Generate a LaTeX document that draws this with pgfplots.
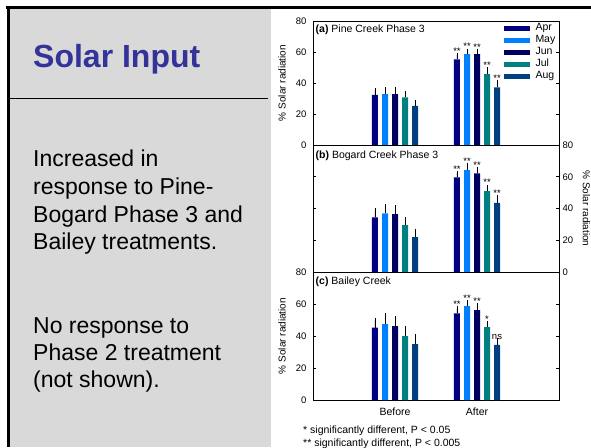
\documentclass[border=0pt]{standalone}
\usepackage{pgfplots}
\pgfplotsset{compat=1.18}
\usepackage{pgfplotstable}
\usepackage{fontspec}
\setmainfont{Liberation Sans}

\definecolor{cApr}{RGB}{0,0,128}
\definecolor{cMay}{RGB}{0,128,255}
\definecolor{cJun}{RGB}{0,0,96}
\definecolor{cJul}{RGB}{0,128,128}
\definecolor{cAug}{RGB}{0,64,128}
\definecolor{panelgrey}{RGB}{217,217,217}
\definecolor{titleblue}{RGB}{51,51,153}

% g: 0 = Before, 1 = After ; E = error (+), L = significance label
\pgfplotstableread{
g apr aprE aprL may mayE mayL jun junE junL jul julE julL aug augE augL
0 32.3 3.0 - 32.8 3.2 - 32.8 3.2 - 30.8 2.5 - 25.2 2.7 -
1 55.3 2.7 ** 58.7 2.1 ** 58.7 2.0 ** 45.8 3.0 ** 37.2 3.4 **
}\tabA
\pgfplotstableread{
g apr aprE aprL may mayE mayL jun junE junL jul julE julL aug augE augL
0 34.4 4.6 - 36.9 4.6 - 36.5 4.2 - 29.6 3.5 - 22.0 4.0 -
1 59.6 2.5 ** 64.2 2.9 ** 62.1 2.9 ** 50.9 2.8 ** 43.6 3.4 **
}\tabB
\pgfplotstableread{
g apr aprE aprL may mayE mayL jun junE junL jul julE julL aug augE augL
0 45.2 4.6 - 47.5 5.2 - 46.2 4.8 - 40.0 4.8 - 35.0 5.0 -
1 54.2 3.1 ** 58.7 2.5 ** 56.2 3.0 ** 45.6 2.5 * 34.4 2.9 ns
}\tabC

\pgfplotsset{
  barsty/.style={ybar, bar width=6pt, bar shift=0pt, draw=none,
    error bars/y dir=plus, error bars/y explicit,
    error bars/error bar style={black, line width=0.7pt},
    error bars/error mark options={black, mark size=2.2pt, line width=0.7pt}},
  labsty/.style={only marks, mark=none,
    skip coords between index={0}{1},
    nodes near coords, point meta=explicit symbolic,
    every node near coord/.append style={font=\fontsize{9.5}{10}\selectfont, inner sep=0.6pt, anchor=south, black}},
  panel/.style={scale only axis, width=246pt, anchor=south west,
    xmin=-1, xmax=2, ymin=0, ymax=80, ytick={0,20,40,60,80},
    tick align=inside, major tick length=3pt, xtick=\empty, clip=false,
    axis line style={line width=0.7pt}, tick style={line width=0.6pt, black},
    tick label style={font=\fontsize{9.5}{11}\selectfont},
    /pgf/number format/assume math mode=true,
    ylabel={\% Solar radiation},
    label style={font=\fontsize{9.5}{11}\selectfont}},
  leftlab/.style={yticklabel pos=left, yticklabel style={xshift=-3pt},
    every axis y label/.style={at={(rel axis cs:-0.126,0.5)}, rotate=90, anchor=center}},
  rightlab/.style={yticklabel pos=right,
    every axis y label/.style={at={(rel axis cs:1.112,0.5)}, rotate=-90, anchor=center}},
}

% bars of one month sit 10 px (0.122 x units) apart within a group
\newcommand{\monthbars}[1]{%
  \addplot[barsty, fill=cApr] table[x expr=\thisrow{g}-0.244,y=apr,y error=aprE]{#1};
  \addplot[barsty, fill=cMay] table[x expr=\thisrow{g}-0.122,y=may,y error=mayE]{#1};
  \addplot[barsty, fill=cJun] table[x expr=\thisrow{g},y=jun,y error=junE]{#1};
  \addplot[barsty, fill=cJul] table[x expr=\thisrow{g}+0.122,y=jul,y error=julE]{#1};
  \addplot[barsty, fill=cAug] table[x expr=\thisrow{g}+0.244,y=aug,y error=augE]{#1};
  \addplot[labsty] table[x expr=\thisrow{g}-0.244,y expr=\thisrow{apr}+\thisrow{aprE},meta=aprL]{#1};
  \addplot[labsty] table[x expr=\thisrow{g}-0.122,y expr=\thisrow{may}+\thisrow{mayE},meta=mayL]{#1};
  \addplot[labsty] table[x expr=\thisrow{g},y expr=\thisrow{jun}+\thisrow{junE},meta=junL]{#1};
  \addplot[labsty] table[x expr=\thisrow{g}+0.122,y expr=\thisrow{jul}+\thisrow{julE},meta=julL]{#1};
  \addplot[labsty] table[x expr=\thisrow{g}+0.244,y expr=\thisrow{aug}+\thisrow{augE},meta=augL]{#1};
}

\begin{document}
\begin{tikzpicture}[x=1pt,y=1pt]
\useasboundingbox (0,0) rectangle (591,447);
\clip (0,0) rectangle (591,447);
\fill[white] (0,0) rectangle (591,447);
\fill[panelgrey] (8,0) rectangle (271,439);
\draw[line width=3pt] (6,439.5) -- (591,439.5);
\draw[line width=3pt] (8.3,441) -- (8.3,0);
\draw[line width=0.9pt] (7,348.7) -- (268,348.7);

\node[anchor=base west, inner sep=0, font=\fontsize{32}{38}\selectfont\bfseries, text=titleblue] at (33,379) {Solar Input};

\begin{scope}[every node/.style={anchor=base west, inner sep=0, font=\fontsize{23}{27.5}\selectfont}]
\node at (33,280.3) {Increased in};
\node at (33,252.5) {response to Pine-};
\node at (33,224.7) {Bogard Phase 3 and};
\node at (33,197) {Bailey treatments.};
\node at (33,113.7) {No response to};
\node at (33,86.5) {Phase 2 treatment};
\node at (33,59.5) {(not shown).};
\end{scope}

% (a)
\begin{axis}[panel, leftlab, at={(313pt,302pt)}, height=124pt,
  legend style={at={(rel axis cs:0.776,0.995)}, anchor=north west, draw=none, fill=none,
    inner sep=0pt, font=\fontsize{10.5}{12}\selectfont, row sep=0pt, column sep=5pt,
    nodes={text height=7.5pt, text depth=2.5pt, inner sep=1pt, anchor=west}}]
\addlegendimage{legend image code/.code={\fill[cApr] (0pt,-2pt) rectangle (25pt,2pt);}}
\addlegendentry{Apr}
\addlegendimage{legend image code/.code={\fill[cMay] (0pt,-2pt) rectangle (25pt,2pt);}}
\addlegendentry{May}
\addlegendimage{legend image code/.code={\fill[cJun] (0pt,-2pt) rectangle (25pt,2pt);}}
\addlegendentry{Jun}
\addlegendimage{legend image code/.code={\fill[cJul] (0pt,-2pt) rectangle (25pt,2pt);}}
\addlegendentry{Jul}
\addlegendimage{legend image code/.code={\fill[cAug] (0pt,-2pt) rectangle (25pt,2pt);}}
\addlegendentry{Aug}
\monthbars{\tabA}
\node[anchor=base west, inner sep=0, font=\fontsize{10.5}{12}\selectfont] at ([xshift=2.5pt,yshift=-12pt]rel axis cs:0,1) {\textbf{(a)} Pine Creek Phase 3};
\end{axis}

% (b)
\begin{axis}[panel, rightlab, at={(313pt,175pt)}, height=127pt]
\monthbars{\tabB}
\node[anchor=base west, inner sep=0, font=\fontsize{10.5}{12}\selectfont] at ([xshift=2.5pt,yshift=-13pt]rel axis cs:0,1) {\textbf{(b)} Bogard Creek Phase 3};
\end{axis}

% (c)
\begin{axis}[panel, leftlab, at={(313pt,47pt)}, height=128pt,
  xtick={0,1}, xticklabels={Before,After}, xtick style={draw=none},
  xticklabel style={font=\fontsize{10.5}{12}\selectfont, yshift=-4pt}]
\monthbars{\tabC}
\node[anchor=base west, inner sep=0, font=\fontsize{10.5}{12}\selectfont] at ([xshift=2.5pt,yshift=-12.5pt]rel axis cs:0,1) {\textbf{(c)} Bailey Creek};
\end{axis}

\node[anchor=base west, inner sep=0, font=\fontsize{10.5}{12}\selectfont] at (303,13.7) {* significantly different, P < 0.05};
\node[anchor=base west, inner sep=0, font=\fontsize{10.5}{12}\selectfont] at (303,0.8) {** significantly different, P < 0.005};
\end{tikzpicture}
\end{document}
